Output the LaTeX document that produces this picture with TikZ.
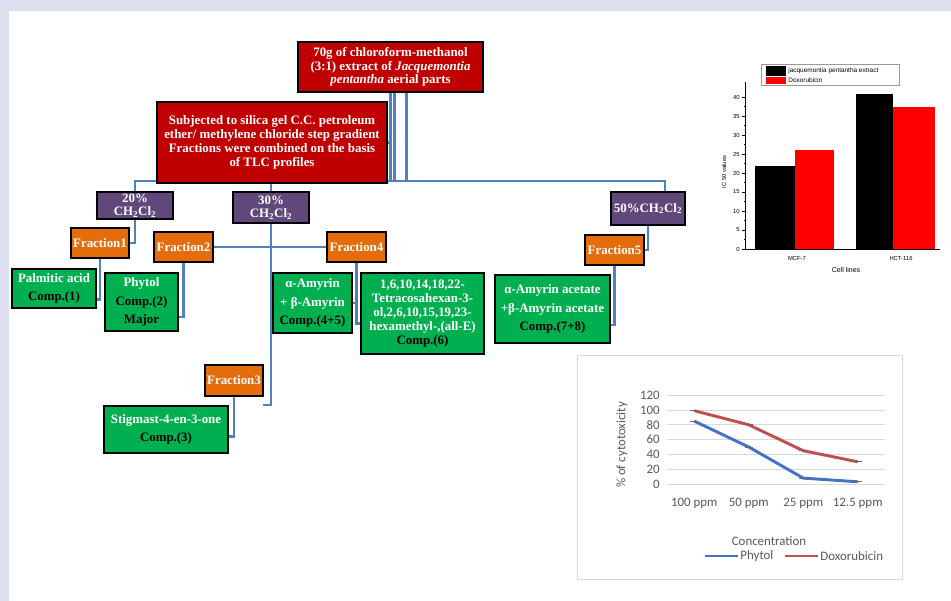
\documentclass[tikz,border=0pt]{standalone}
\usepackage{fontspec}
\setmainfont{Liberation Serif}
\newfontfamily\chartsans{Liberation Sans}
\newfontfamily\chartcal{Carlito}
\usetikzlibrary{calc,backgrounds}
\definecolor{boxred}{RGB}{192,0,0}
\definecolor{boxpurple}{RGB}{96,73,122}
\definecolor{boxorange}{RGB}{228,108,10}
\definecolor{boxgreen}{RGB}{0,176,80}
\definecolor{wireblue}{RGB}{79,129,189}
\definecolor{pageblue}{RGB}{221,225,239}
\definecolor{lineblue}{RGB}{68,114,196}
\definecolor{linered}{RGB}{192,80,77}
\definecolor{gridgray}{RGB}{217,217,217}
\definecolor{labgray}{RGB}{89,89,89}

\begin{document}
\begin{tikzpicture}[x=0.03cm, y=-0.03cm,
  box/.style={draw=black, line width=2.2pt, text=white, align=center, inner sep=1pt,
    font=\bfseries\fontsize{11}{11.5}\selectfont},
  compbox/.style={box, fill=boxgreen, font=\bfseries\fontsize{11}{15.5}\selectfont},
  sz/.style 2 args={minimum width=#1*0.03cm, minimum height=#2*0.03cm},
  wire/.style={draw=wireblue, line width=2pt},
  barlab/.style={font=\chartsans\fontsize{5}{6}\selectfont, inner sep=1pt},
  linelab/.style={font=\chartcal\fontsize{11}{12}\selectfont, text=labgray, inner sep=1pt}]
\useasboundingbox (0,0) rectangle (951,601);
% Extraction
\node[box, fill=boxred, sz={185}{50}] (extract) at (390.5,67) {70g of chloroform-methanol\\(3:1) extract of \textit{Jacquemontia}\\\textit{pentantha} aerial parts};
\node[box, fill=boxred, sz={230}{81}, font=\bfseries\fontsize{11}{12}\selectfont] (silica) at (272,142.5) {Subjected to silica gel C.C. petroleum\\ether/ methylene chloride step gradient\\Fractions were combined on the basis\\of TLC profiles};
% Eluents
\node[box, fill=boxpurple, sz={76}{27}] (dcm20) at (135,205.5) {20\%\\CH\textsubscript{2}Cl\textsubscript{2}};
\node[box, fill=boxpurple, sz={76}{31}] (dcm30) at (271,207.5) {30\%\\CH\textsubscript{2}Cl\textsubscript{2}};
\node[box, fill=boxpurple, sz={74}{33}] (dcm50) at (648,208.5) {50\%CH\textsubscript{2}Cl\textsubscript{2}};
% Fractions
\node[box, fill=boxorange, sz={58}{30}] (frac1) at (100,243) {Fraction1};
\node[box, fill=boxorange, sz={59}{30}] (frac2) at (183.5,247) {Fraction2};
\node[box, fill=boxorange, sz={58}{31}] (frac3) at (234,380.5) {Fraction3};
\node[box, fill=boxorange, sz={59}{30}] (frac4) at (356.5,247) {Fraction4};
\node[box, fill=boxorange, sz={59}{30}] (frac5) at (614.5,250) {Fraction5};
% Compounds
\node[compbox, sz={84}{39}] (palmitic) at (54,288.5) {Palmitic acid\\\textcolor{black}{Comp.(1)}};
\node[compbox, sz={73}{58}] (phytol) at (141.5,302) {Phytol\\\textcolor{black}{Comp.(2)}\\\textcolor{black}{Major}};
\node[compbox, sz={124}{47}] (stigmast) at (166,429.5) {Stigmast-4-en-3-one\\\textcolor{black}{Comp.(3)}};
\node[compbox, sz={79}{60}] (amyrin) at (312.5,303) {α-Amyrin\\+ β-Amyrin\\\textcolor{black}{Comp.(4+5)}};
\node[compbox, sz={123}{81}, font=\bfseries\fontsize{11}{12}\selectfont] (tetraco) at (422.5,313.5) {1,6,10,14,18,22-\\Tetracosahexan-3-\\ol,2,6,10,15,19,23-\\hexamethyl-,(all-E)\\\textcolor{black}{Comp.(6)}};
\node[compbox, sz={115}{68}] (amyacet) at (552.5,309) {α-Amyrin acetate\\+β-Amyrin acetate\\\textcolor{black}{Comp.(7+8)}};
% Connectors
\begin{scope}[on background layer]
\fill[pageblue] (0,0) rectangle (951,601);
\fill[white] (9,11) rectangle (951,601);
\coordinate (trunkR) at (665,181);
\foreach \dx in {0,4,16} {
  \draw[wire] (extract.south) ++(\dx,0) -- ++(0,89);
}
\draw[wire] (silica.east) -- (silica.east -| extract.south);
\draw[wire] (dcm20.north) |- (trunkR) -- (dcm50.north -| trunkR);
\draw[wire] (dcm30.north) -- (dcm30.north |- trunkR);
\draw[wire] (dcm20.south) |- (frac1.east);
\draw[wire] (frac1.south) |- ($(palmitic.east)+(0,11)$);
\draw[wire] (frac2.south) |- ($(phytol.east)+(0,15)$);
\draw[wire] (frac2.east) -- (frac4.west);
\coordinate (dcm30end) at (263,405);
\draw[wire] (dcm30.south) |- (dcm30end);
\draw[wire] (frac3.south) |- ($(stigmast.east)+(0,7)$);
\draw[wire] (frac4.south) |- ($(tetraco.west)+(0,10)$);
\draw[wire] (frac4.south |- amyrin.east) -- (amyrin.east);
\draw[wire] (dcm50.south) |- (frac5.east);
\draw[wire] (frac5.south) |- ($(amyacet.east)+(0,16)$);
\end{scope}
% IC50 bar chart
\draw[line width=0.5pt] (745,82) -- (745,249) -- (940,249);
\foreach \v in {0,5,...,40} {
  \draw[line width=0.4pt] (745,{249-3.8*\v}) -- ++(-3,0);
  \node[barlab, anchor=east] (ic\v) at (741,{249-3.8*\v}) {\v};
}
\foreach \v in {2.5,7.5,...,37.5} {
  \draw[line width=0.3pt] (745,{249-3.8*\v}) -- ++(-1.5,0);
}
\fill[black] (755,249) rectangle (795,{249-3.8*21.8});
\fill[red] (795,249) rectangle (834,{249-3.8*26});
\fill[black] (856,249) rectangle (893,{249-3.8*40.8});
\fill[red] (893,249) rectangle (935,{249-3.8*37.3});
\node[barlab, rotate=90] (icaxis) at (724,172) {IC 50 values};
\node[barlab] (mcf) at (797,258) {MCF-7};
\node[barlab] (hct) at (901,258) {HCT-116};
\node[barlab, font=\chartsans\fontsize{6}{7}\selectfont] (cells) at (846,270) {Cell lines};
\draw[black!40, line width=0.4pt] (761,64) rectangle (899,85);
\fill[black] (766,66) rectangle (786,76);
\fill[red] (766,77) rectangle (786,84);
\node[barlab, anchor=west, font=\chartsans\fontsize{5.5}{6}\selectfont] (legext) at (787,71) {jacquemontia pentantha extract};
\node[barlab, anchor=west, font=\chartsans\fontsize{5.5}{6}\selectfont] (legdox) at (787,80.5) {Doxorubicin};
% Cytotoxicity line chart
\draw[gridgray, line width=0.6pt] (577,355) rectangle (902,579);
\foreach \v in {0,20,...,120} {
  \draw[gridgray, line width=0.6pt] (667,{484-0.74*\v}) -- (885,{484-0.74*\v});
  \node[linelab, anchor=east] (cy\v) at (661,{484-0.74*\v}) {\v};
}
\foreach \c/\lab in {0/100 ppm, 1/50 ppm, 2/25 ppm, 3/12.5 ppm} {
  \node[linelab] (conc\c) at ({694.25+54.5*\c},503) {\lab};
}
\draw[lineblue, line width=2.5pt, line join=round] (694.25,421.1) -- (748.75,447) -- (803.25,478.1) -- (857.75,481.8);
\draw[linered, line width=2.5pt, line join=round] (694.25,410.7) -- (748.75,424.8) -- (803.25,450.7) -- (857.75,461.8);
\foreach \px/\py in {694.25/421.1, 748.75/447, 803.25/478.1, 857.75/481.8, 694.25/410.7, 748.75/424.8, 803.25/450.7, 857.75/461.8} {
  \draw[black!60, line width=0.7pt] (\px-4,\py) -- (\px+4,\py);
}
\node[linelab, rotate=90] (cyaxis) at (622,445) {\% of cytotoxicity};
\node[linelab] (concaxis) at (769,541) {Concentration};
\draw[lineblue, line width=2.5pt] (705,556) -- (738,556);
\node[linelab, anchor=west] (legphy) at (739,556) {Phytol};
\draw[linered, line width=2.5pt] (785,556) -- (818,556);
\node[linelab, anchor=west] (legdoxo) at (819,556) {Doxorubicin};
\end{tikzpicture}
\end{document}
